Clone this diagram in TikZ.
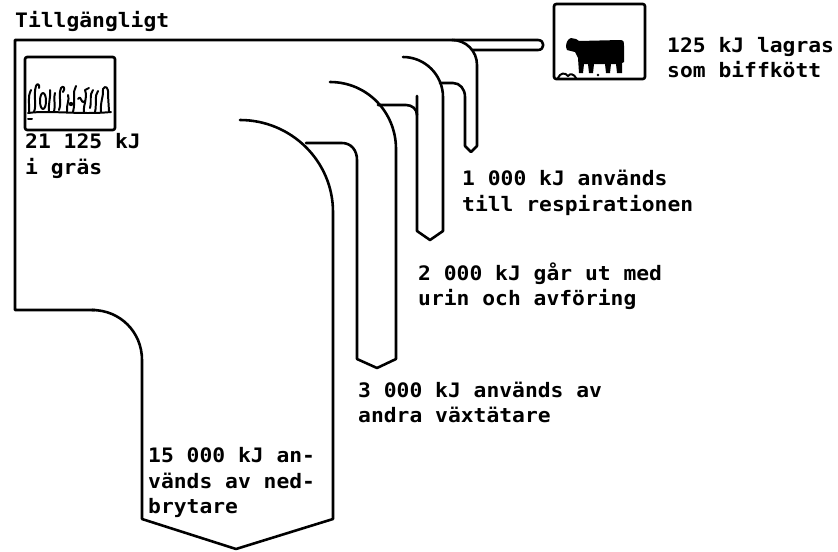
\documentclass[tikz,border=0pt]{standalone}
\usepackage{fontspec}
\newfontfamily\lblfamily[FakeStretch=1.07]{DejaVu Sans Mono}
\begin{document}
\begin{tikzpicture}[x=0.03cm, y=-0.03cm,
  band/.style={line width=2.2pt, line join=round, line cap=round},
  lbl/.style={font=\lblfamily\bfseries\fontsize{17}{21}\selectfont, anchor=base west, inner sep=0pt},
  frame/.style={line width=2.3pt, rounded corners=2pt},
  scribble/.style={line width=1.7pt, line cap=round, line join=round}]
\useasboundingbox (0,0) rectangle (838,551);

% main band: left side, top edge and the 125 kJ bar to the beef box
\draw[band] (95,310) -- (15,310) -- (15,40) -- (538,40)
  .. controls (545,40) and (545,50) .. (538,50) -- (472,50);

% 15 000 kJ branch (decomposers)
\draw[band] (92,310) .. controls (120,310) and (142,332) .. (142,360)
  -- (142,519) -- (236,549) -- (333,519) -- (333,212)
  .. controls (333,161) and (291,120) .. (240,120);

% 3 000 kJ branch (other herbivores)
\draw[band] (306,143) -- (342,143) .. controls (351,143) and (357,150) .. (357,160)
  -- (357,359) -- (377,368) -- (396,359) -- (396,149)
  .. controls (396,112) and (367,82) .. (330,82);

% 2 000 kJ branch (urine and faeces)
\draw[band] (378,105) -- (406,105) .. controls (412,105) and (417,109) .. (417,115);
\draw[band] (417,96) -- (417,231) -- (430,240) -- (443,231) -- (443,97)
  .. controls (443,75) and (425,57) .. (403,57);

% 1 000 kJ branch (respiration)
\draw[band] (440,83) -- (453,83) .. controls (460,83) and (465,89) .. (465,97)
  -- (465,146) -- (471,152) -- (477,146) -- (477,65)
  .. controls (477,51) and (466,40) .. (452,40);

% grass picture
\draw[frame] (25,57) rectangle (115,130);
\begin{scope}[scribble]
  \draw (29,113) .. controls (30,104) and (27,98) .. (31,90);
  \draw (34,112) .. controls (37,104) and (33,96) .. (36,86) .. controls (37,83) and (40,84) .. (39,88);
  \draw (43,101) ellipse (3 and 8);
  \draw (49,112) .. controls (48,104) and (51,97) .. (50,90);
  \draw (54,112) .. controls (56,105) and (53,98) .. (55,93);
  \draw (59,110) .. controls (62,102) and (58,96) .. (61,88) .. controls (63,85) and (66,88) .. (63,92);
  \draw (67,112) .. controls (66,105) and (70,100) .. (68,95);
  \fill (71,104) circle (2.2);
  \draw (73,112) .. controls (76,100) and (72,92) .. (76,86);
  \draw (78,99) .. controls (82,94) and (80,105) .. (85,101);
  \draw (84,112) .. controls (83,104) and (88,99) .. (85,90) -- (89,88);
  \draw (90,108) .. controls (92,100) and (89,95) .. (93,90);
  \draw (95,112) .. controls (97,104) and (94,96) .. (98,91);
  \draw (101,112) .. controls (100,102) and (104,95) .. (103,89)
    .. controls (105,85) and (109,87) .. (108,95) -- (109,111);
  \draw (28,113) .. controls (50,110) and (80,115) .. (111,112);
  \draw (28,119) -- (32,119);
\end{scope}

% beef picture
\draw[frame] (554,4) rectangle (645,79);
\fill (566,47) .. controls (566,42) and (568,39) .. (571,38) -- (576,39)
  -- (579,41) -- (620,40) .. controls (624,40) and (624,42) .. (624,46)
  -- (624,62) -- (622,63) -- (622,73) -- (617,73) -- (616,64) -- (611,64)
  -- (610,73) -- (606,73) -- (605,64) -- (594,64) -- (593,73) -- (589,73)
  -- (588,64) -- (584,64) -- (583,73) -- (579,73) -- (578,58)
  -- (575,52) -- (571,51) -- (567,50) -- cycle;
\draw[scribble] (558,78) .. controls (560,73) and (565,72) .. (568,76)
  .. controls (570,73) and (574,74) .. (576,78);
\fill (598,75) circle (1.3);

% labels
\node[lbl] (avail) at (15,27) {Tillgängligt};
\node[lbl] (grassA) at (25,148) {21 125 kJ};
\node[lbl] (grassB) at (25,174) {i gräs};
\node[lbl] (beefA) at (667,52) {125 kJ lagras};
\node[lbl] (beefB) at (667,77) {som biffkött};
\node[lbl] (respA) at (462,185) {1 000 kJ används};
\node[lbl] (respB) at (462,211) {till respirationen};
\node[lbl] (wasteA) at (418,280) {2 000 kJ går ut med};
\node[lbl] (wasteB) at (418,305) {urin och avföring};
\node[lbl] (herbA) at (358,397) {3 000 kJ används av};
\node[lbl] (herbB) at (358,422) {andra växtätare};
\node[lbl] (decA) at (148,462) {15 000 kJ an-};
\node[lbl] (decB) at (148,488) {vänds av ned-};
\node[lbl] (decC) at (148,513) {brytare};
\end{tikzpicture}
\end{document}
